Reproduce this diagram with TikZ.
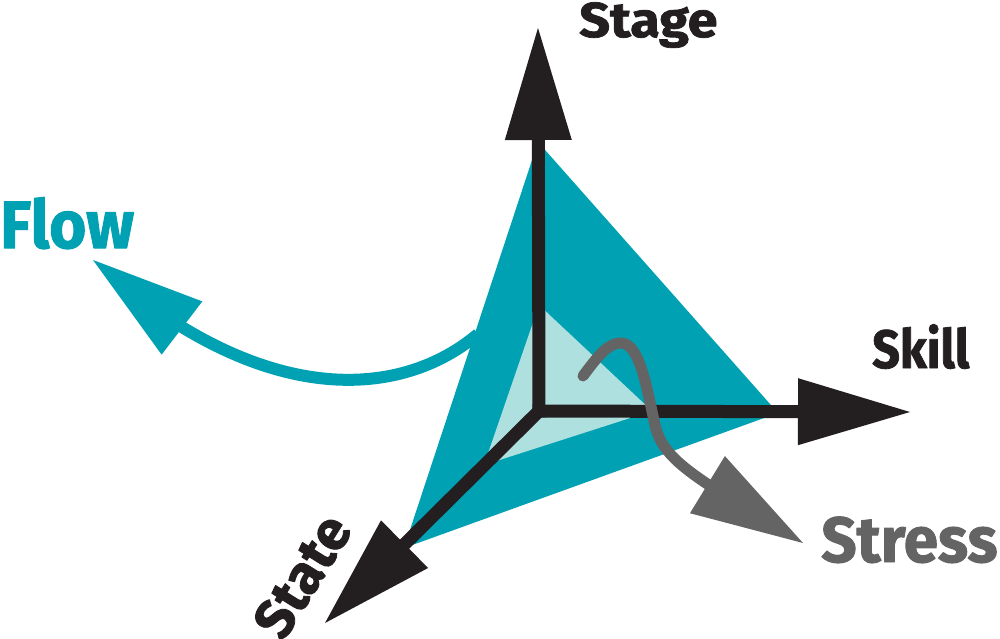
\documentclass[tikz,border=0pt]{standalone}
\usepackage{fontspec}
\setmainfont{Fira Sans}[BoldFeatures={FakeBold=1.5}]
\usetikzlibrary{arrows.meta,bending}
\definecolor{flowteal}{HTML}{00A1B2}
\definecolor{paleteal}{HTML}{AFE0E0}
\definecolor{axisblack}{HTML}{231F20}
\definecolor{stressgray}{HTML}{656465}
\begin{document}
\begin{tikzpicture}[x=1pt,y=-1pt,line join=round,
	tip/.style={-{Triangle[length=112pt,width=67pt,line width=0pt,flex]}},
	axis/.style={tip,draw=axisblack,line width=13pt,line cap=rect},
	lbl/.style={font=\bfseries\fontsize{#1}{#1}\selectfont,inner sep=0pt,anchor=base west}]
	\useasboundingbox (0,0) rectangle (1000,639);
	% axes ends
	\coordinate (O) at (539,411);
	\coordinate (stage) at (538,28);
	\coordinate (skill) at (910,412);
	\coordinate (state) at (325,623);
	\coordinate (flowstart) at (478,334);
	\coordinate (flowtip) at (93,260);
	\coordinate (stressstart) at (583,376);
	\coordinate (stresstip) at (803,543);
	% flow arrow, behind the faces
	\draw[tip,flowteal,line width=12pt] (flowstart) .. controls (400,400) and (260,410) .. (flowtip);
	% faces
	\fill[flowteal] (538,142) -- (778,413) -- (404,548) -- cycle;
	\fill[paleteal] (539,305) -- (652,411) -- (484,465) -- cycle;
	\draw[axis] (O) -- (stage);
	\draw[axis] (O) -- (skill);
	\draw[axis] (O) -- (state);
	% stress arrow
	\draw[tip,stressgray,line width=11pt,line cap=round] (stressstart) .. controls (598,356) and (608,343) .. (621,343)
		.. controls (640,343) and (647,390) .. (655,425) .. controls (663,462) and (700,480) .. (stresstip);
	% labels
	\node[lbl=49,axisblack,xscale=1.1] (stagelbl) at (579,37) {Stage};
	\node[lbl=54,axisblack,xscale=0.9] (skilllbl) at (872,368) {Skill};
	\node[lbl=67,flowteal,xscale=0.95] (flowlbl) at (0,248) {Flow};
	\node[lbl=64,stressgray,xscale=0.97] (stresslbl) at (821,562) {Stress};
	\node[lbl=55,axisblack,anchor=center,rotate=58] (statelbl) at (302,576) {State};
\end{tikzpicture}
\end{document}
